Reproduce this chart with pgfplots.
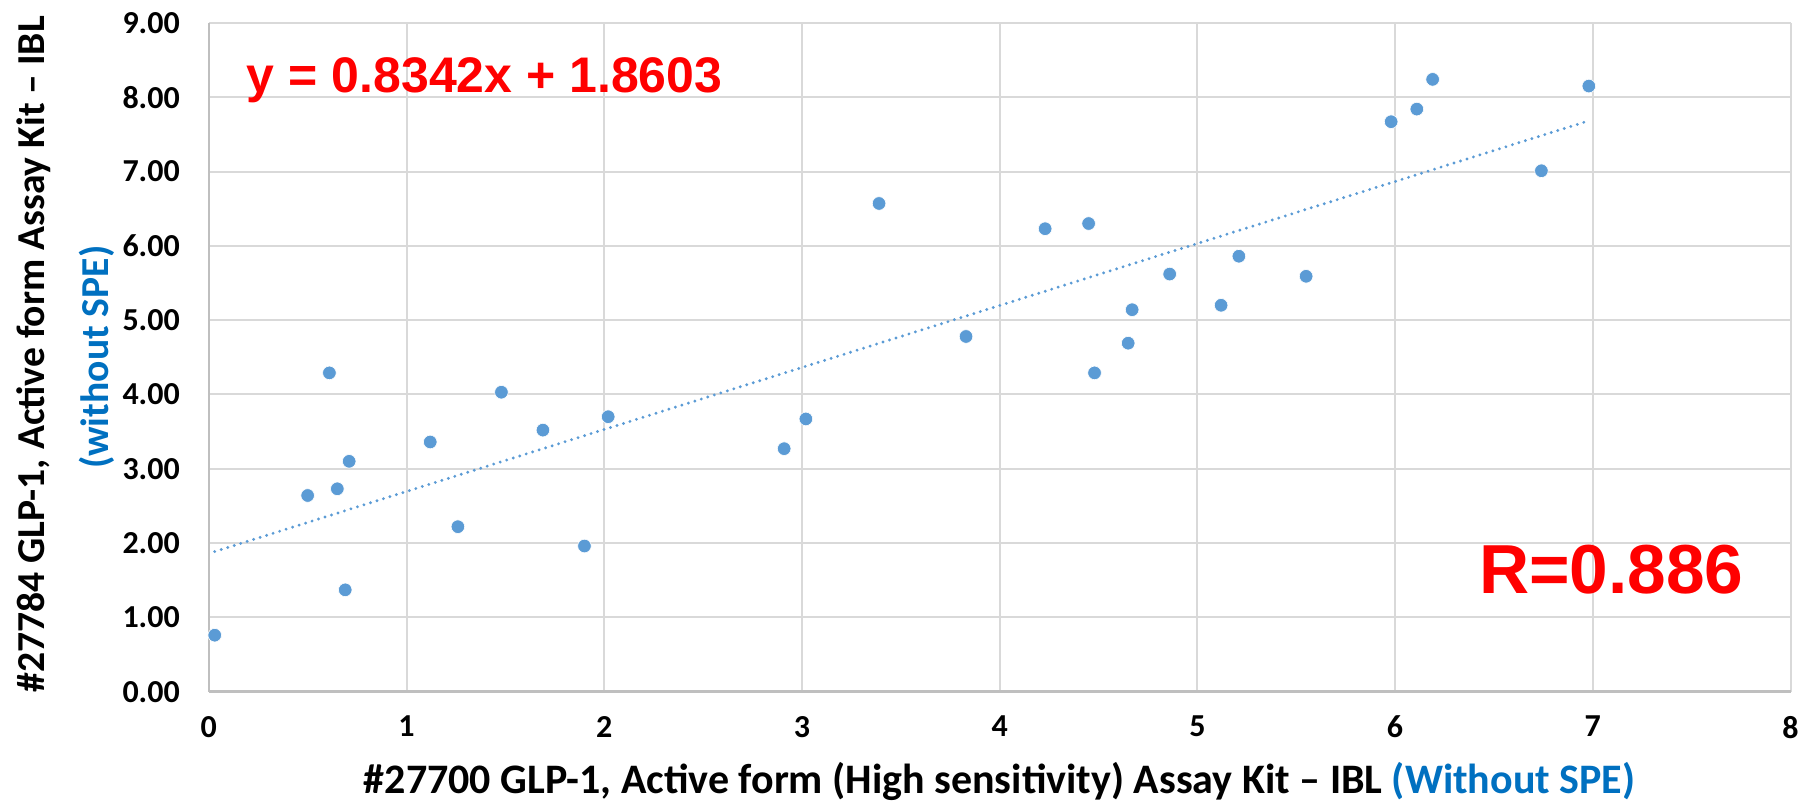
\documentclass[border=0pt]{standalone}
\usepackage{fontspec}
\setmainfont{Carlito}
\newfontfamily\arialfont{Liberation Sans}
\usepackage{pgfplots}
\pgfplotsset{compat=1.18}
\definecolor{mk}{HTML}{5B9BD5}
\definecolor{tb}{HTML}{0070C0}
\definecolor{gridc}{HTML}{D9D9D9}
\definecolor{axc}{HTML}{BFBFBF}
\begin{document}
\begin{tikzpicture}
\begin{axis}[
  scale only axis,
  width=790.9pt, height=334.4pt,
  xmin=0, xmax=8, ymin=0, ymax=9,
  xtick={0,1,...,8}, ytick={0,1,...,9},
  axis lines=left,
  axis line style={draw=axc, line width=1.2pt, -},
  grid=major,
  major grid style={draw=gridc, line width=1pt},
  major tick length=0pt,
  clip=false,
  /pgf/number format/assume math mode=true,
  tick label style={font=\fontsize{16}{18}\selectfont\bfseries},
  xticklabel style={yshift=-8.7pt},
  yticklabel style={xshift=-11pt, /pgf/number format/.cd, fixed, fixed zerofill, precision=2},
]
\coordinate (bl) at (rel axis cs:0,0);
\coordinate (tr) at (rel axis cs:1,1);
\addplot[draw=none, mark=*, mark size=3.4pt, mark options={fill=mk, draw=white, line width=0.3pt}] coordinates {
(0.03,0.76) (0.50,2.64) (0.61,4.29) (0.65,2.73) (0.71,3.10) (0.69,1.37)
(1.12,3.36) (1.26,2.22) (1.48,4.03) (1.69,3.52) (1.90,1.96) (2.02,3.70)
(2.91,3.27) (3.02,3.67) (3.39,6.57) (3.83,4.78) (4.23,6.23) (4.45,6.30)
(4.48,4.29) (4.65,4.69) (4.67,5.14) (4.86,5.62) (5.12,5.20) (5.21,5.86)
(5.55,5.59) (5.98,7.67) (6.11,7.84) (6.19,8.24) (6.74,7.01) (6.98,8.15)
};
\addplot[mk, line width=1.6pt, line cap=round, dash pattern=on 0pt off 3.4pt, mark=none] coordinates {(0.03,1.885) (6.98,7.683)};
\node[anchor=west, inner sep=0pt, text=red, font=\arialfont\fontsize{25}{28}\selectfont\bfseries]
  at ([xshift=18.9pt,yshift=-28.6pt]rel axis cs:0,1) {y = 0.8342x + 1.8603};
\node[anchor=west, inner sep=0pt, text=red, font=\arialfont\fontsize{34.7}{38}\selectfont\bfseries]
  at ([xshift=635pt,yshift=60.8pt]rel axis cs:0,0) {R=0.886};
\node[rotate=90, inner sep=0pt, font=\fontsize{19.8}{24}\selectfont\bfseries]
  at ([xshift=-87.4pt,yshift=1.5pt]rel axis cs:0,0.5) {\#27784 GLP-1, Active form Assay Kit -- IBL};
\node[rotate=90, inner sep=0pt, text=tb, font=\fontsize{19.8}{24}\selectfont\bfseries]
  at ([xshift=-55.9pt]rel axis cs:0,0.5) {(without SPE)};
\node[inner sep=0pt, font=\fontsize{21}{24}\selectfont\bfseries]
  at ([yshift=-45pt]rel axis cs:0.5,0) {\#27700 GLP-1, Active form (High sensitivity) Assay Kit -- IBL \textcolor{tb}{(Without SPE)}};
\end{axis}
\pgfresetboundingbox
\path ([xshift=-104.4pt,yshift=-59.65pt]bl) rectangle ([xshift=3.75pt,yshift=11.45pt]tr);
\end{tikzpicture}
\end{document}
